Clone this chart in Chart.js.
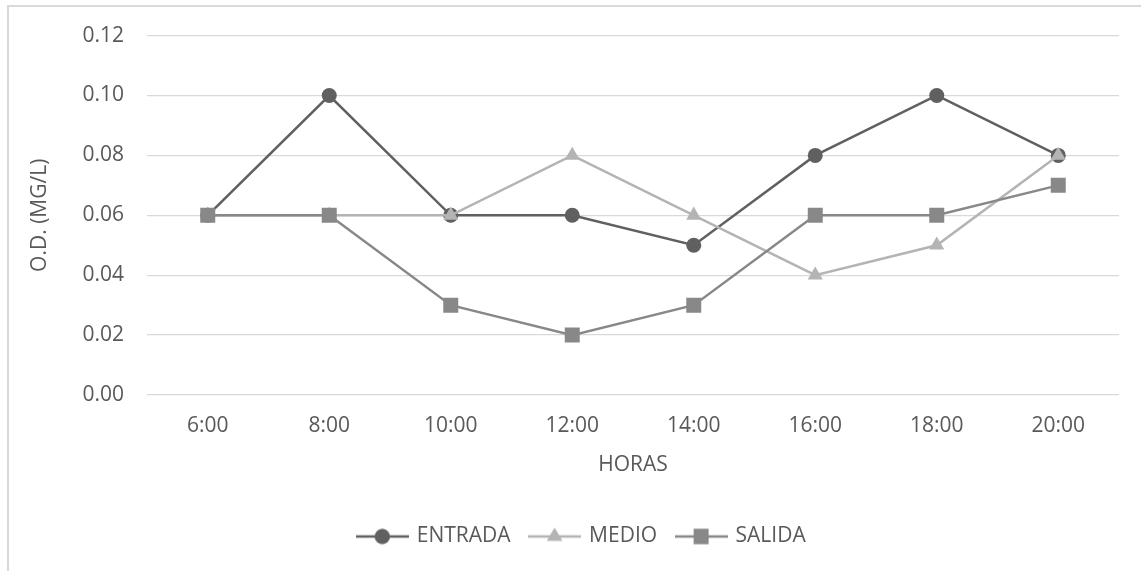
<!DOCTYPE html>
<html>
<head>
<meta charset="utf-8">
<script src="https://cdn.jsdelivr.net/npm/chart.js@4.4.1/dist/chart.umd.min.js"></script>
<style>
  html, body { margin: 0; padding: 0; background: #fff; overflow: hidden; }
  #frame {
    position: absolute; left: 7px; top: 5px;
    width: 1200px; height: 620px;
    border: 2px solid #d9d9d9;
  }
  #wrap { position: absolute; left: 0; top: 0; width: 1141px; height: 571px; }
</style>
</head>
<body>
<div id="frame"></div>
<div id="wrap"><canvas id="od-chart"></canvas></div>
<script>
// data
const horas = ['6:00', '8:00', '10:00', '12:00', '14:00', '16:00', '18:00', '20:00'];
const entrada = [0.06, 0.10, 0.06, 0.06, 0.05, 0.08, 0.10, 0.08];
const medio   = [0.06, 0.06, 0.06, 0.08, 0.06, 0.04, 0.05, 0.08];
const salida  = [0.06, 0.06, 0.03, 0.02, 0.03, 0.06, 0.06, 0.07];
const yTicks  = [0, 0.02, 0.04, 0.06, 0.08, 0.10, 0.12];

const textColor = '#595959';
const fontFamily = '"Open Sans", sans-serif';

const series = [
  { label: 'ENTRADA', data: entrada, color: '#606060', pointStyle: 'circle',   radius: 7.5,  order: 2 },
  { label: 'MEDIO',   data: medio,   color: '#b4b4b4', pointStyle: 'triangle', radius: 8.7,  order: 1 },
  { label: 'SALIDA',  data: salida,  color: '#888888', pointStyle: 'rect',     radius: 10.6, order: 0 }
];

// legend icon = short line with the marker in the middle (excel style)
function legendIcon(s) {
  const c = document.createElement('canvas');
  c.width = 53; c.height = 22;
  const ctx = c.getContext('2d');
  ctx.strokeStyle = s.color;
  ctx.lineWidth = 2.5;
  ctx.beginPath();
  ctx.moveTo(0, 11);
  ctx.lineTo(53, 11);
  ctx.stroke();
  ctx.fillStyle = s.color;
  Chart.helpers.drawPoint(ctx, { pointStyle: s.pointStyle, radius: s.radius, rotation: 0, borderWidth: 0 }, 26.5, 11);
  ctx.fill();
  return c;
}
const icons = series.map(legendIcon);

const ctx = document.getElementById('od-chart').getContext('2d');
const chart = new Chart(ctx, {
  type: 'line',
  data: {
    labels: horas,
    datasets: series.map(s => ({
      label: s.label,
      data: s.data,
      borderColor: s.color,
      backgroundColor: s.color,
      borderWidth: 2.5,
      tension: 0,
      pointStyle: s.pointStyle,
      pointRadius: s.radius,
      pointHoverRadius: s.radius,
      pointBorderWidth: 0,
      pointBackgroundColor: s.color,
      order: s.order
    }))
  },
  options: {
    responsive: true,
    maintainAspectRatio: false,
    animation: false,
    layout: { padding: { left: 45, right: 22, top: 34, bottom: 14 } },
    scales: {
      x: {
        offset: true,
        grid: { display: false, drawTicks: false },
        border: { display: false },
        ticks: { color: textColor, font: { family: fontFamily, size: 21 }, padding: 18 },
        title: {
          display: true,
          text: 'HORAS',
          color: textColor,
          font: { family: fontFamily, size: 21 },
          padding: { top: 0, bottom: 28 }
        },
        afterFit: (scale) => { scale.height = 111; }
      },
      y: {
        min: 0,
        max: 0.12,
        afterBuildTicks: (scale) => { scale.ticks = yTicks.map(v => ({ value: v })); },
        grid: { color: '#d9d9d9', lineWidth: 1.3, drawTicks: false },
        border: { display: false },
        ticks: {
          color: textColor,
          font: { family: fontFamily, size: 21 },
          padding: 23,
          callback: (v) => Number(v).toFixed(2)
        },
        title: {
          display: true,
          text: 'O.D. (MG/L)',
          color: textColor,
          font: { family: fontFamily, size: 21 },
          padding: { top: -18, bottom: 0 }
        },
        afterFit: (scale) => { scale.width = 102; }
      }
    },
    plugins: {
      tooltip: { enabled: false },
      legend: {
        position: 'bottom',
        labels: {
          color: textColor,
          font: { family: fontFamily, size: 21 },
          usePointStyle: true,
          pointStyleWidth: 48,
          padding: 20,
          sort: (a, b) => a.datasetIndex - b.datasetIndex,
          generateLabels: (chart) => {
            const items = Chart.defaults.plugins.legend.labels.generateLabels(chart);
            items.forEach(it => { it.pointStyle = icons[it.datasetIndex]; });
            return items;
          }
        }
      }
    }
  }
});
</script>
</body>
</html>
